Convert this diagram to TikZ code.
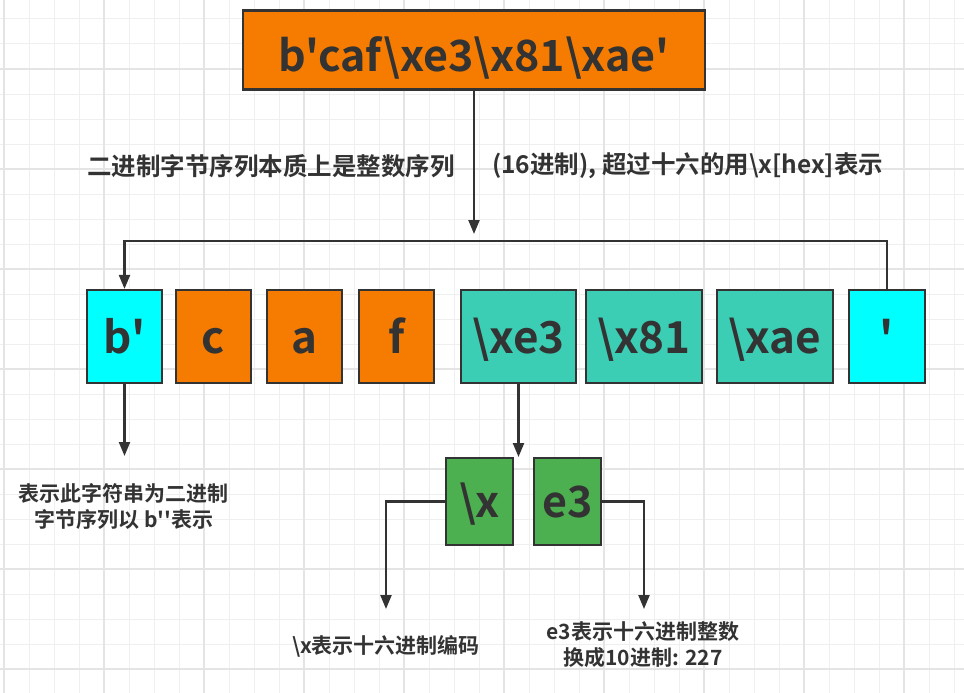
\documentclass[tikz,border=0pt]{standalone}
\usepackage{fontspec}
\usetikzlibrary{arrows.meta}
\newfontfamily\mf{Noto Sans CJK SC}[BoldFont={* Bold}]
\definecolor{ink}{HTML}{333333}
\definecolor{org}{HTML}{F57C00}
\definecolor{cyn}{HTML}{00FFFF}
\definecolor{tea}{HTML}{3CCDB5}
\definecolor{grn}{HTML}{4CAF50}
\definecolor{gminor}{HTML}{EFEFEF}
\definecolor{gmajor}{HTML}{E4E4E4}
\newcommand{\bs}{\textbackslash}
\tikzset{
  box/.style={draw=ink, line width=2.2pt, text=ink, minimum height=93pt, inner sep=0pt, text height=33pt, text depth=0pt, font=\mf\bfseries\fontsize{44}{50}\selectfont},
  gbox/.style={box, fill=grn, minimum width=67pt, minimum height=87pt, text height=31pt, font=\mf\bfseries\fontsize{43}{48}\selectfont},
  conn/.style={draw=ink, line width=2.2pt},
  arr/.style={conn, -{Triangle[length=14pt,width=11pt]}},
  lbl/.style={text=ink, inner sep=0pt, font=\mf\bfseries\fontsize{21}{26}\selectfont, align=center},
  toplbl/.style={lbl, font=\mf\bfseries\fontsize{24.5}{29}\selectfont},
}
\begin{document}
\begin{tikzpicture}[x=1pt,y=-1pt]
\useasboundingbox (0,0) rectangle (964,693);
\fill[white] (0,0) rectangle (964,693);
% grid
\foreach \gx in {4,29,...,964} \draw[gminor, line width=1pt] (\gx,0) -- (\gx,693);
\foreach \gy in {19,44,...,693} \draw[gminor, line width=1pt] (0,\gy) -- (964,\gy);
\foreach \gx in {4,104,...,964} \draw[gmajor, line width=1.2pt] (\gx,0) -- (\gx,693);
\foreach \gy in {69,169,...,693} \draw[gmajor, line width=1.2pt] (0,\gy) -- (964,\gy);

% top box
\node[box, fill=org, minimum width=462pt, minimum height=79pt, text height=44pt, font=\mf\bfseries\fontsize{43}{50}\selectfont] (top) at (474,50) {b'caf\bs xe3\bs x81\bs xae'};

% row
\node[box, fill=cyn, minimum width=75pt] (bp) at (124.5,336.5) {b'};
\node[box, fill=org, minimum width=75pt] (c) at (213.5,336.5) {c};
\node[box, fill=org, minimum width=75pt] (a) at (304.5,336.5) {a};
\node[box, fill=org, minimum width=75pt] (f) at (396.5,336.5) {f};
\node[box, fill=tea, minimum width=115pt] (xe3) at (518.5,336.5) {\bs xe3};
\node[box, fill=tea, minimum width=116pt] (x81) at (644,336.5) {\bs x81};
\node[box, fill=tea, minimum width=116pt] (xae) at (775,336.5) {\bs xae};
\node[box, fill=cyn, minimum width=76pt] (q) at (887,336.5) {'};

% green
\node[gbox] (gx) at (479.5,501.5) {\bs x};
\node[gbox] (ge) at (567.5,501.5) {e3};

% labels
\node[toplbl, anchor=east] (l1) at (455,166) {二进制字节序列本质上是整数序列};
\node[toplbl, anchor=west] (l2) at (492,166) {(16进制), 超过十六的用\bs x[hex]表示};
\node[lbl] (l3) at (124,507) {表示此字符串为二进制\\字节序列以 b''表示};
\node[lbl] (l4) at (386,646) {\bs x表示十六进制编码};
\node[lbl] (l5) at (643,645) {e3表示十六进制整数\\换成10进制: 227};

% coordinates
\coordinate (hy) at (474,241);
\coordinate (bpt) at (124.5,456);
\coordinate (xt) at (518.5,457);
\coordinate (lx) at (386,609);
\coordinate (rx) at (644,609);

% connectors
\draw[arr, shorten >=7pt] (top.south) -- (hy);
\draw[arr] (q.north) |- (hy) -| (bp.north);
\draw[arr] (bp.south) -- (bpt);
\draw[arr] (xe3.south) -- (xt);
\draw[arr] (gx.west) -| (lx);
\draw[arr] (ge.east) -| (rx);
\end{tikzpicture}
\end{document}
